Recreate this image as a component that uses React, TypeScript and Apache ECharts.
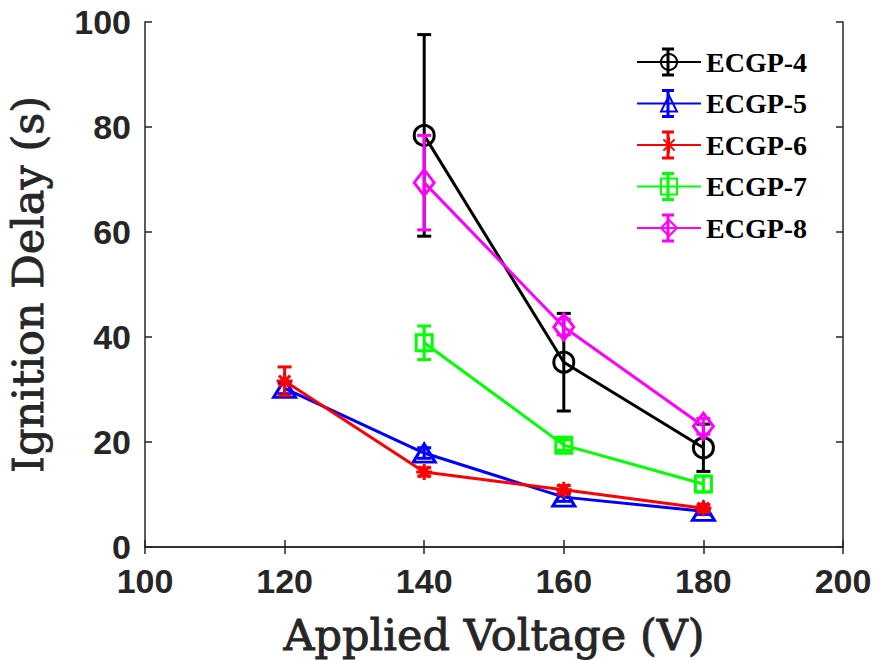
import React, { useEffect, useRef } from "react";
import * as echarts from "echarts";

const seriesNames = ["ECGP-4", "ECGP-5", "ECGP-6", "ECGP-7", "ECGP-8"];
const colors = ["#000000", "#0000ff", "#ff0000", "#00ff00", "#ff00ff"];

const voltsEcgp4 = [140, 160, 180];
const meanEcgp4 = [78.4, 35.2, 18.9];
const errEcgp4 = [19.2, 9.3, 4.5];

const voltsEcgp5 = [120, 140, 160, 180];
const meanEcgp5 = [30.2, 17.9, 9.5, 6.8];
const errEcgp5 = [1.0, 1.0, 0.8, 0.6];

const voltsEcgp6 = [120, 140, 160, 180];
const meanEcgp6 = [31.6, 14.3, 10.9, 7.4];
const errEcgp6 = [2.7, 0.8, 0.8, 0.6];

const voltsEcgp7 = [140, 160, 180];
const meanEcgp7 = [38.9, 19.4, 12.0];
const errEcgp7 = [3.2, 1.0, 1.5];

const voltsEcgp8 = [140, 160, 180];
const meanEcgp8 = [69.4, 41.9, 23.0];
const errEcgp8 = [9.0, 1.5, 1.5];

const xTicks = [100, 120, 140, 160, 180, 200];
const yTicks = [0, 20, 40, 60, 80, 100];

const allVolts = [voltsEcgp4, voltsEcgp5, voltsEcgp6, voltsEcgp7, voltsEcgp8];
const allMeans = [meanEcgp4, meanEcgp5, meanEcgp6, meanEcgp7, meanEcgp8];
const allErrs = [errEcgp4, errEcgp5, errEcgp6, errEcgp7, errEcgp8];

const asterisk =
  "path://M0,-1 L0,1 M-1,0 L1,0 M-0.7,-0.7 L0.7,0.7 M-0.7,0.7 L0.7,-0.7";
const symbols = ["circle", "triangle", asterisk, "rect", "diamond"];
const symbolSizes: any[] = [20, [22, 18], 16, 16, [20, 26]];

export default function App() {
  const ref = useRef<HTMLDivElement>(null);
  useEffect(() => {
    if (!ref.current) return;
    const chart = echarts.init(ref.current, null, { renderer: "svg" });
    const axisColor = "#262626";
    const series: any[] = [];
    seriesNames.forEach((name, i) => {
      const c = colors[i];
      series.push({
        name: name + "-err",
        type: "custom",
        data: allVolts[i].map((v, j) => [v, allMeans[i][j] - allErrs[i][j], allMeans[i][j] + allErrs[i][j]]),
        encode: { x: 0, y: [1, 2] },
        z: 3 + i,
        renderItem: (params: any, api: any) => {
          const x = api.value(0);
          const lo = api.coord([x, api.value(1)]);
          const hi = api.coord([x, api.value(2)]);
          const hw = 7;
          const st = { stroke: c, lineWidth: 3 };
          return {
            type: "group",
            children: [
              { type: "line", shape: { x1: lo[0], y1: lo[1], x2: hi[0], y2: hi[1] }, style: st },
              { type: "line", shape: { x1: lo[0] - hw, y1: lo[1], x2: lo[0] + hw, y2: lo[1] }, style: st },
              { type: "line", shape: { x1: hi[0] - hw, y1: hi[1], x2: hi[0] + hw, y2: hi[1] }, style: st },
            ],
          };
        },
      });
      series.push({
        name,
        type: "line",
        data: allVolts[i].map((v, j) => [v, allMeans[i][j]]),
        symbol: symbols[i],
        symbolSize: symbolSizes[i],
        showAllSymbol: true,
        z: 3 + i,
        lineStyle: { color: c, width: 3 },
        itemStyle: { color: "rgba(255,255,255,0)", borderColor: c, borderWidth: 3 },
      });
    });

    // legend error-bar glyphs (decoration only)
    const legendTop = 48;
    const rowStep = 41.5;
    const glyphs: any[] = [];
    colors.forEach((c, i) => {
      const cy = legendTop + 14 + i * rowStep;
      const st = { stroke: c, lineWidth: 3 };
      const x = 668;
      glyphs.push({ type: "line", z: 100, shape: { x1: x, y1: cy - 13, x2: x, y2: cy + 13 }, style: st });
      glyphs.push({ type: "line", z: 100, shape: { x1: x - 6, y1: cy - 13, x2: x + 6, y2: cy - 13 }, style: st });
      glyphs.push({ type: "line", z: 100, shape: { x1: x - 6, y1: cy + 13, x2: x + 6, y2: cy + 13 }, style: st });
    });

    const titleStyle = {
      fontFamily: "DejaVu Serif",
      fontSize: 43,
      color: "#262626",
      textBorderColor: "#262626",
      textBorderWidth: 0.9,
    };

    chart.setOption({
      animation: false,
      backgroundColor: "#ffffff",
      grid: {
        left: 145,
        right: 34,
        top: 22,
        bottom: 113,
        containLabel: false,
        outerBoundsMode: "none",
      },
      graphic: glyphs,
      legend: {
        data: seriesNames,
        orient: "vertical",
        left: 636,
        top: legendTop,
        padding: 0,
        itemWidth: 64,
        itemHeight: 20,
        itemGap: 13.5,
        itemTextGap: 8,
        textStyle: {
          fontFamily: "Liberation Serif",
          fontWeight: "bold",
          fontSize: 28,
          lineHeight: 28,
          color: "#000",
        },
      },
      xAxis: [
        {
          type: "value",
          min: 100,
          max: 200,
          interval: 20,
          name: "Applied Voltage (V)",
          nameLocation: "middle",
          nameGap: 66,
          nameTextStyle: titleStyle,
          axisLine: { lineStyle: { color: axisColor, width: 1.5 } },
          axisTick: { inside: true, length: 7, lineStyle: { color: axisColor, width: 1.5 } },
          axisLabel: {
            margin: 20,
            fontFamily: "Liberation Sans",
            fontWeight: "bold",
            fontSize: 34,
            lineHeight: 28,
            color: "#262626",
            formatter: (v: number) => (xTicks.includes(v) ? String(v) : ""),
          },
          splitLine: { show: false },
        },
        {
          type: "value",
          position: "top",
          min: 100,
          max: 200,
          interval: 20,
          axisLine: { lineStyle: { color: axisColor, width: 1.5 } },
          axisTick: { inside: true, length: 7, lineStyle: { color: axisColor, width: 1.5 } },
          axisLabel: { show: false },
          splitLine: { show: false },
        },
      ],
      yAxis: [
        {
          type: "value",
          min: 0,
          max: 100,
          interval: 20,
          name: "Ignition Delay (s)",
          nameLocation: "middle",
          nameGap: 96,
          nameTextStyle: titleStyle,
          axisLine: { show: true, lineStyle: { color: axisColor, width: 1.5 } },
          axisTick: { show: true, inside: true, length: 7, lineStyle: { color: axisColor, width: 1.5 } },
          axisLabel: {
            margin: 14,
            fontFamily: "Liberation Sans",
            fontWeight: "bold",
            fontSize: 34,
            lineHeight: 28,
            color: "#262626",
            formatter: (v: number) => (yTicks.includes(v) ? String(v) : ""),
          },
          splitLine: { show: false },
        },
        {
          type: "value",
          position: "right",
          min: 0,
          max: 100,
          interval: 20,
          axisLine: { show: true, lineStyle: { color: axisColor, width: 1.5 } },
          axisTick: { show: true, inside: true, length: 7, lineStyle: { color: axisColor, width: 1.5 } },
          axisLabel: { show: false },
          splitLine: { show: false },
        },
      ],
      series,
    });
    return () => chart.dispose();
  }, []);
  return (
    <div
      ref={ref}
      style={{ position: "absolute", left: 0, top: 0, width: 877, height: 660 }}
    />
  );
}
